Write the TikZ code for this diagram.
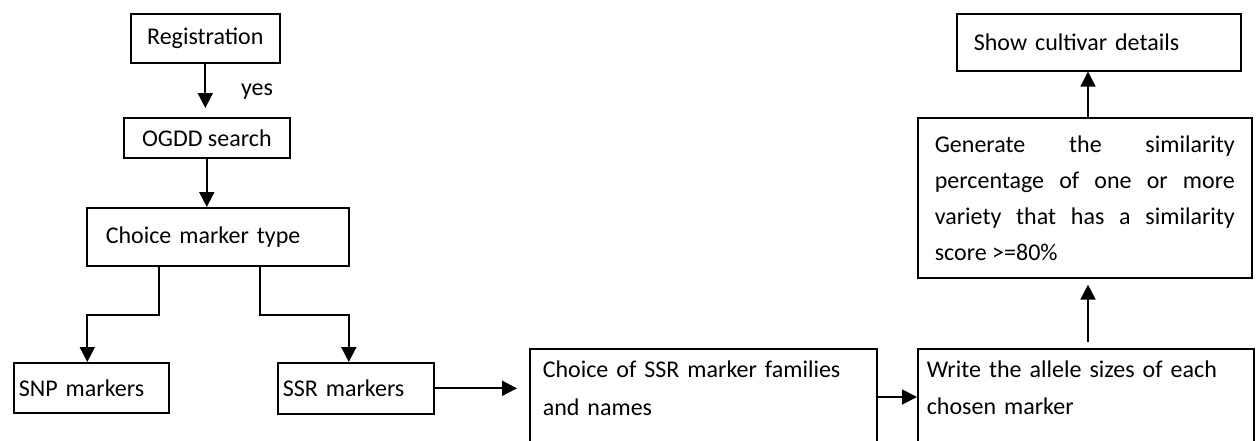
\documentclass[tikz,border=0pt]{standalone}
\usepackage{fontspec}
\setmainfont{Carlito}
\usetikzlibrary{arrows.meta,calc}
\begin{document}
\begin{tikzpicture}[x=1pt,y=-1pt,
  font=\fontsize{24}{36}\selectfont,
  box/.style={draw, line width=1.6pt, rectangle, anchor=north west, inner ysep=0pt},
  arr/.style={line width=1.8pt, -{Triangle[length=15pt,width=15pt]}}]
\useasboundingbox (0,0) rectangle (1258,440);
\clip (0,0) rectangle (1258,440);

\node[box, minimum width=149pt, minimum height=49pt, inner xsep=0pt] (reg) at (130,13) {Registration};
\node[box, minimum width=166pt, minimum height=40pt, inner xsep=0pt] (ogdd) at (123,117) {OGDD search};
\node[box, minimum height=58pt, text width=224pt, inner xsep=19pt, align=left] (choice) at (86,207) {Choice marker type};
\node[box, minimum height=50pt, text width=145pt, inner xsep=5pt, align=left] (snp) at (13,362) {SNP markers};
\node[box, minimum height=51pt, text width=146pt, inner xsep=5pt, align=left] (ssr) at (277,362) {SSR markers};
\node[box, text width=321pt, inner xsep=13pt, inner ysep=12pt, align=left,
  font=\fontsize{24}{38}\selectfont] (chssr) at (529,348)
  {Choice of SSR marker families\\and names\\\mbox{}\\\mbox{}};
\node[box, text width=318pt, inner xsep=9pt, inner ysep=12pt, align=left,
  font=\fontsize{24}{37}\selectfont] (write) at (917,348)
  {Write the allele sizes of each\\chosen marker\\\mbox{}\\\mbox{}};
\node[box, minimum height=160pt, text width=300pt, inner xsep=17pt, align=justify] (gen) at (917,117)
  {Generate the similarity\linebreak percentage of one or more\linebreak variety that has a similarity\linebreak score >=80\%};
\node[box, minimum height=57pt, text width=250pt, inner xsep=17pt, align=left] (show) at (956,13) {Show cultivar details};
\node (yes) at (257,92) {yes};

\coordinate (j) at (0,315);
\coordinate (m) at (0,397);
\coordinate (vx) at (1088,0);

\draw[arr, shorten >=9pt] (reg.south) -- (reg.south |- ogdd.north);
\draw[arr] (ogdd.south) -- (ogdd.south |- choice.north);
\draw[arr] ([xshift=73pt]choice.south west) coordinate (c1) -- (c1 |- j) -| ([xshift=-4pt]snp.north);
\draw[arr] ([xshift=174pt]choice.south west) coordinate (c2) -- (c2 |- j) -| ([xshift=-7pt]ssr.north);
\draw[arr, shorten >=12pt] (ssr.east) -- (ssr.east -| chssr.west);
\draw[arr] (chssr.east |- m) -- (write.west |- m);
\draw[arr, shorten <=6pt, shorten >=6pt] (write.north -| vx) -- (gen.south -| vx);
\draw[arr] (gen.north -| vx) -- (show.south -| vx);
\end{tikzpicture}
\end{document}
